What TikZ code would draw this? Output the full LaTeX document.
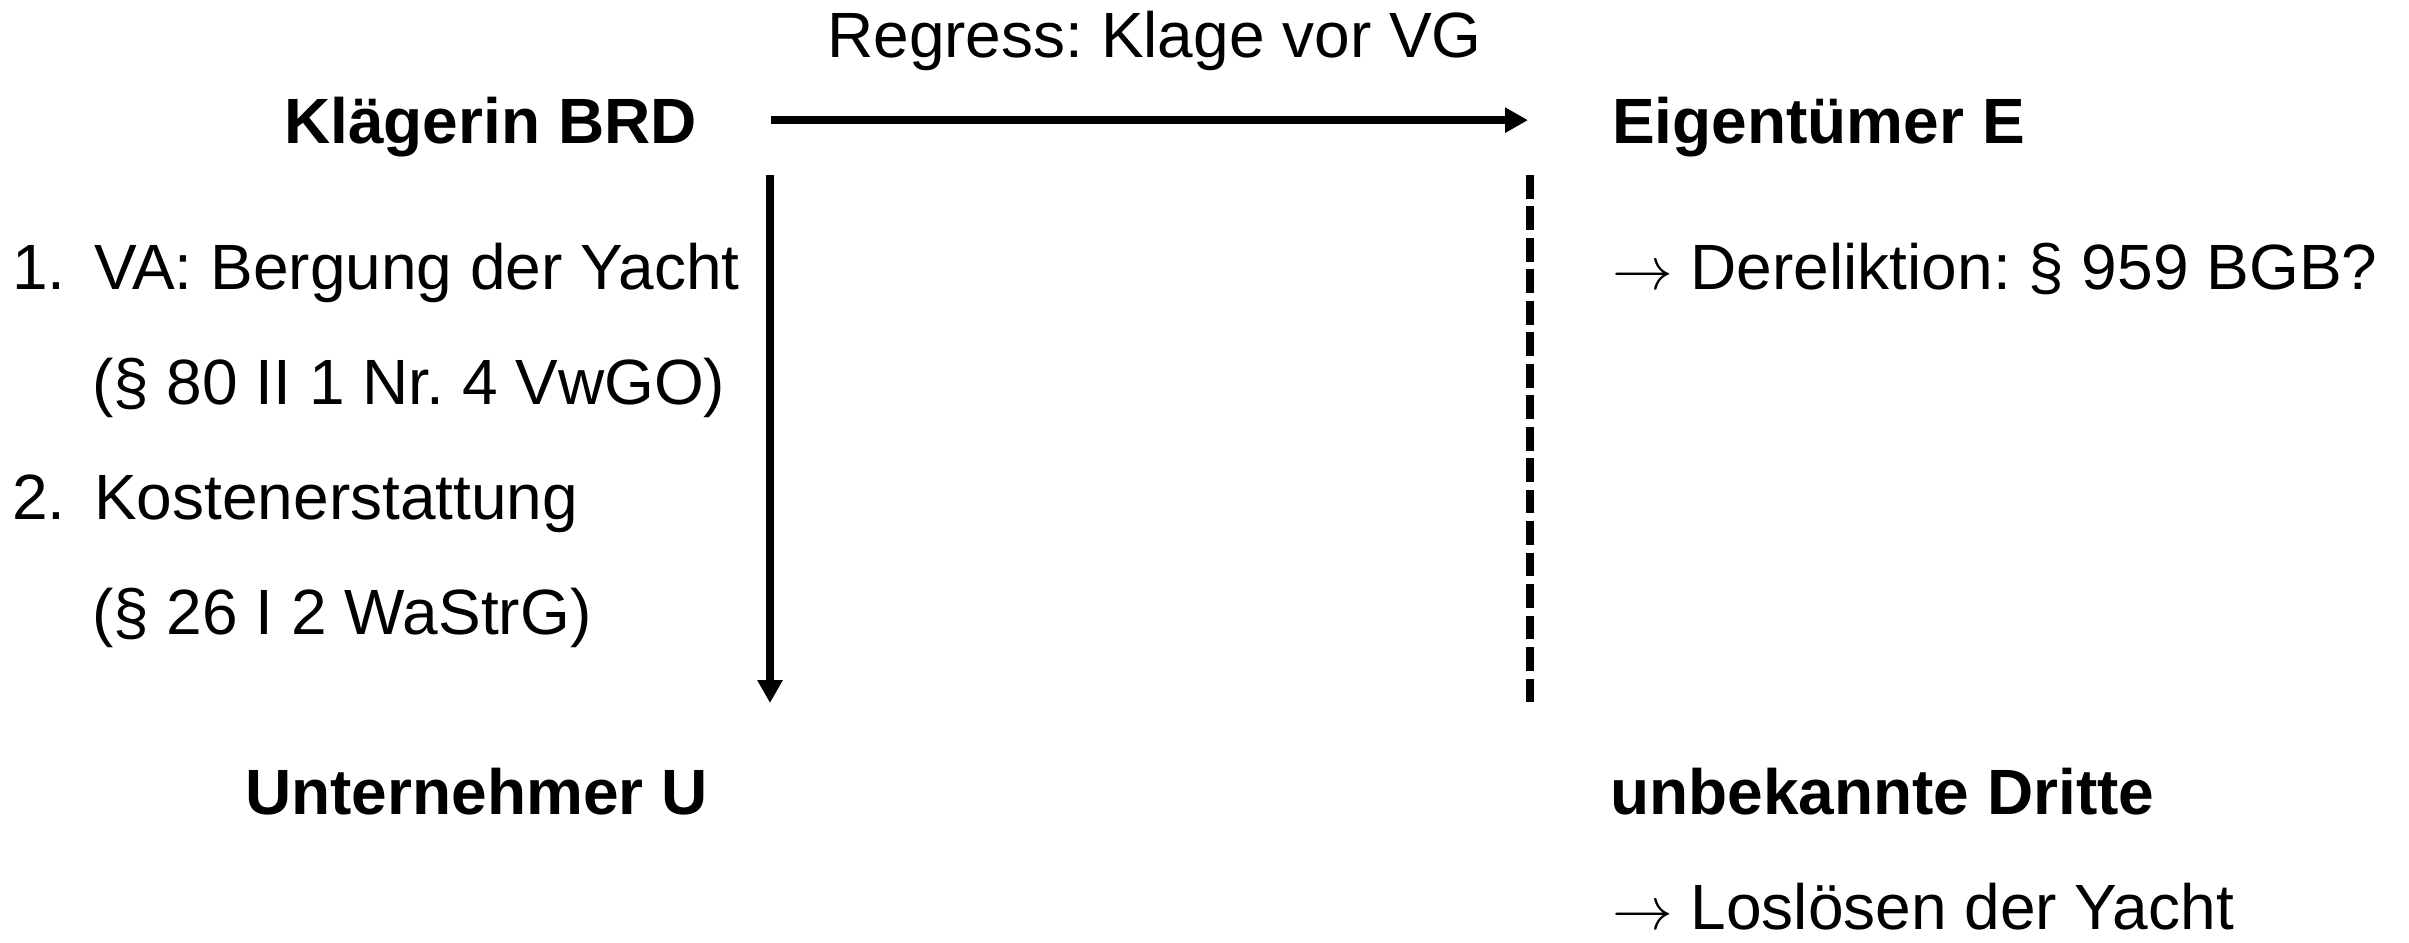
\documentclass[tikz,border=0pt]{standalone}
\usepackage{fontspec}
\setmainfont{Liberation Sans}
\usetikzlibrary{arrows.meta,positioning}
\frenchspacing

\begin{document}
\begin{tikzpicture}[
        x=0.01cm, y=-0.01cm,
        >={Triangle[length=6.5pt,width=6.8pt]},
        every node/.style={inner sep=0pt, text height=13pt, text depth=0pt,
          font=\fontsize{18.2pt}{22pt}\selectfont},
        party/.style={font=\fontsize{18.2pt}{22pt}\selectfont\bfseries},
        line width=2.4pt
        ]

        \useasboundingbox (0,0) rectangle (2409,942);

        \node[party, anchor=base west] (KlaegerinBRD) at (280,143) {Klägerin BRD};
        \node[party, anchor=base west] (EigentuemerE) at (1608,143) {Eigentümer E};
        \node[party, anchor=base west] (UnternehmerU) at (241,814) {Unternehmer U};
        \node[party, anchor=base west] (UnbekannteDritte) at (1606,814) {unbekannte Dritte};

        \node[anchor=base west] (bergung) at (8,289) {\makebox[0.82cm][l]{1.}VA: Bergung der Yacht};
        \node[anchor=base west] (bergungNorm) at (88,404) {(§ 80 II 1 Nr. 4 VwGO)};
        \node[anchor=base west] (kosten) at (8,519) {\makebox[0.82cm][l]{2.}Kostenerstattung};
        \node[anchor=base west] (kostenNorm) at (88,634) {(§ 26 I 2 WaStrG)};

        \node[anchor=base west] (dereliktion) at (1608,289) {$\rightarrow$ Dereliktion: § 959 BGB?};
        \node[anchor=base west] (losloesen) at (1608,929) {$\rightarrow$ Loslösen der Yacht};

        \coordinate (vgTop) at (770,175);
        \coordinate (vgBottom) at (770,703);
        \coordinate (dashTop) at (1530,175);
        \coordinate (dashBottom) at (1530,703);

        % Edges
        \draw[->, shorten <=0.7cm, shorten >=0.8cm] (KlaegerinBRD.east) to node[midway, above=0.58cm] {Regress: Klage vor VG} (EigentuemerE.west);
        \draw[->] (vgTop) to (vgBottom);
        \draw[dash pattern=on 6.75pt off 2.2pt] (dashTop) to (dashBottom);

      \end{tikzpicture}
\end{document}
